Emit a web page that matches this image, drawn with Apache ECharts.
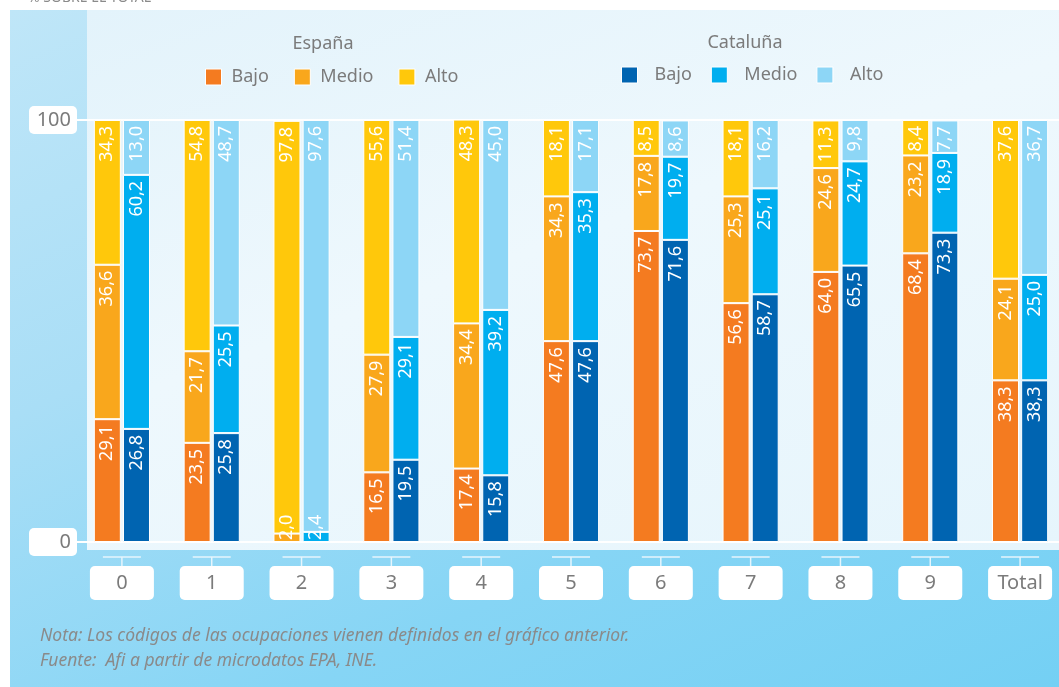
<!DOCTYPE html>
<html>
<head>
    <meta charset="utf-8">
    <title>Nivel de formación por ocupación</title>
    <script src="https://cdn.jsdelivr.net/npm/echarts@6/dist/echarts.min.js"></script>
    <style>
        body { margin: 0; background: #fff; }
        #bg { position: absolute; left: 10px; top: 10px; width: 1049px; height: 677px;
              background: linear-gradient(155deg, #bfe6f8 0%, #a9def6 35%, #86d5f5 70%, #74d0f4 100%); }
        #panel { position: absolute; left: 87px; top: 10px; width: 972px; height: 540px;
                 background: linear-gradient(160deg, #e3f3fb 0%, #eef8fd 45%, #e6f5fc 100%); }
        #main { position: absolute; left: 0; top: 0; width: 1059px; height: 687px; }
    </style>
</head>
<body>
<div id="bg"></div>
<div id="panel"></div>
<div id="main"></div>
<script type="text/javascript">
    var categories = ['0', '1', '2', '3', '4', '5', '6', '7', '8', '9', 'Total'];

    // España
    var espBajo  = [29.1, 23.5, null, 16.5, 17.4, 47.6, 73.7, 56.6, 64.0, 68.4, 38.3];
    var espMedio = [36.6, 21.7, 2.0, 27.9, 34.4, 34.3, 17.8, 25.3, 24.6, 23.2, 24.1];
    var espAlto  = [34.3, 54.8, 97.8, 55.6, 48.3, 18.1, 8.5, 18.1, 11.3, 8.4, 37.6];

    // Cataluña
    var catBajo  = [26.8, 25.8, null, 19.5, 15.8, 47.6, 71.6, 58.7, 65.5, 73.3, 38.3];
    var catMedio = [60.2, 25.5, 2.4, 29.1, 39.2, 35.3, 19.7, 25.1, 24.7, 18.9, 25.0];
    var catAlto  = [13.0, 48.7, 97.6, 51.4, 45.0, 17.1, 8.6, 16.2, 9.8, 7.7, 36.7];

    var yTicks = [0, 100];

    var font = 'Noto Sans';
    var grey = '#7b7b7b';

    function fmt(p) {
        var v = (p.value && typeof p.value === 'object') ? p.value.value : p.value;
        return v == null ? '' : v.toFixed(1).replace('.', ',');
    }

    // tiny segments get their label pushed up from the bottom
    function withSmall(arr) {
        return arr.map(function (v) {
            if (v != null && v < 5) {
                return {value: v, label: {position: 'insideBottom', align: 'left', distance: 2}};
            }
            return v;
        });
    }

    function bar(name, stack, data, color) {
        return {
            name: name,
            type: 'bar',
            stack: stack,
            barWidth: 27,
            barGap: '8%',
            data: withSmall(data),
            itemStyle: {color: color, borderColor: '#ffffff', borderWidth: 1},
            label: {
                show: true,
                position: 'insideTop',
                rotate: 90,
                align: 'right',
                verticalAlign: 'middle',
                distance: 6,
                color: '#ffffff',
                fontFamily: font,
                fontSize: 18,
                formatter: fmt
            }
        };
    }

    var myChart = echarts.init(document.getElementById('main'));

    var option = {
        backgroundColor: 'transparent',
        animation: false,
        title: [
            {text: 'España', left: 318, top: 30, textAlign: 'center',
             textStyle: {color: grey, fontFamily: font, fontSize: 18, fontWeight: 'normal'}},
            {text: 'Cataluña', left: 740, top: 29, textAlign: 'center',
             textStyle: {color: grey, fontFamily: font, fontSize: 18, fontWeight: 'normal'}}
        ],
        legend: [
            {
                data: ['España Bajo', 'España Medio', 'España Alto'],
                left: 200, top: 63, itemWidth: 16, itemHeight: 16, itemGap: 25,
                icon: 'rect',
                itemStyle: {borderColor: '#fff', borderWidth: 1},
                formatter: function (n) { return n.split(' ')[1]; },
                textStyle: {color: grey, fontFamily: font, fontSize: 18, padding: [0, 0, 0, 5]}
            },
            {
                data: ['Cataluña Bajo', 'Cataluña Medio', 'Cataluña Alto'],
                left: 616, top: 61, itemWidth: 16, itemHeight: 16, itemGap: 19,
                icon: 'rect',
                itemStyle: {borderColor: '#fff', borderWidth: 1},
                formatter: function (n) { return n.split(' ')[1]; },
                textStyle: {color: grey, fontFamily: font, fontSize: 18, padding: [0, 0, 0, 12]}
            }
        ],
        grid: {left: 77, top: 120, width: 988, height: 422, outerBoundsMode: 'none'},
        xAxis: {
            type: 'category',
            data: categories,
            axisLine: {show: false},
            axisTick: {show: false},
            axisLabel: {
                margin: 24,
                color: grey,
                fontFamily: font,
                fontSize: 20,
                backgroundColor: '#ffffff',
                borderRadius: 5,
                width: 56,
                align: 'center',
                lineHeight: 26,
                padding: [4, 4]
            }
        },
        yAxis: {
            type: 'value',
            min: yTicks[0],
            max: yTicks[1],
            interval: 100,
            axisLine: {show: false},
            axisTick: {show: false},
            splitLine: {lineStyle: {color: '#ffffff', width: 2}},
            axisLabel: {
                margin: 0,
                color: grey,
                fontFamily: font,
                fontSize: 20,
                backgroundColor: '#ffffff',
                borderRadius: 5,
                width: 36,
                align: 'right',
                lineHeight: 24,
                padding: [2, 6, 2, 6]
            }
        },
        series: [
            bar('España Bajo', 'esp', espBajo, '#f47b20'),
            bar('España Medio', 'esp', espMedio, '#f9a71c'),
            bar('España Alto', 'esp', espAlto, '#ffc80b'),
            bar('Cataluña Bajo', 'cat', catBajo, '#0064b1'),
            bar('Cataluña Medio', 'cat', catMedio, '#00aeef'),
            bar('Cataluña Alto', 'cat', catAlto, '#8dd6f6')
        ]
    };

    myChart.setOption(option);

    // little bracket marks above each category box
    var marks = [];
    categories.forEach(function (c, i) {
        var x = myChart.convertToPixel({xAxisIndex: 0}, i);
        marks.push({type: 'line', shape: {x1: x - 19, y1: 557, x2: x + 19, y2: 557},
                    style: {stroke: '#e6f5fc', lineWidth: 1.5}, silent: true});
        marks.push({type: 'line', shape: {x1: x, y1: 557, x2: x, y2: 566},
                    style: {stroke: '#e6f5fc', lineWidth: 1.5}, silent: true});
    });
    marks.push({type: 'text', left: 40, top: 627, silent: true,
                style: {text: 'Nota: Los códigos de las ocupaciones vienen definidos en el gráfico anterior.',
                        fill: '#8a8a8a', font: 'italic 17.5px "Noto Sans"'}});
    marks.push({type: 'text', left: 40, top: 652, silent: true,
                style: {text: 'Fuente:  Afi a partir de microdatos EPA, INE.',
                        fill: '#8a8a8a', font: 'italic 17.5px "Noto Sans"'}});
    marks.push({type: 'text', left: 28, top: -9, silent: true,
                style: {text: '% SOBRE EL TOTAL', fill: '#8a8a8a', font: '14px "Noto Sans"'}});

    myChart.setOption({graphic: marks});
</script>
</body>
</html>
